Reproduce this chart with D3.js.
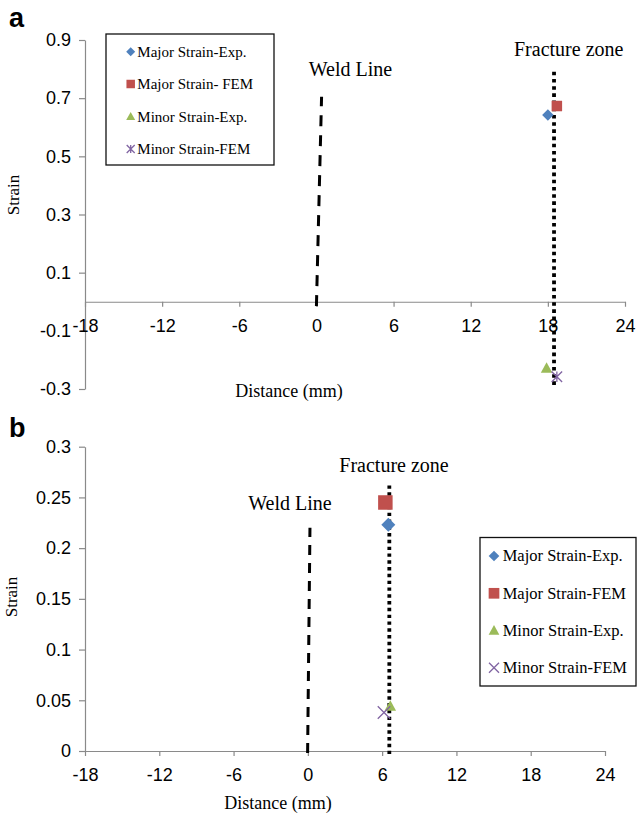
<!DOCTYPE html>
<html>
<head>
<meta charset="utf-8">
<script src="https://cdn.jsdelivr.net/npm/d3@7"></script>
<style>
  html, body { margin: 0; padding: 0; background: #fff; }
  svg { display: block; }
</style>
</head>
<body>
<svg id="chart" width="638" height="815"></svg>
<script>
// ---------- DATA ----------
const seriesNames = ["Major Strain-Exp.", "Major Strain-FEM", "Minor Strain-Exp.", "Minor Strain-FEM"];
const legendNamesA = ["Major Strain-Exp.", "Major Strain- FEM", "Minor Strain-Exp.", "Minor Strain-FEM"];
const seriesColors = ["#4F81BD", "#C0504D", "#9BBB59", "#8064A2"];

const xTicks = [-18, -12, -6, 0, 6, 12, 18, 24];
const yTicksA = [-0.3, -0.1, 0.1, 0.3, 0.5, 0.7, 0.9];
const yTicksB = [0, 0.05, 0.1, 0.15, 0.2, 0.25, 0.3];

// Panel a: distance (mm), strain
const distA = [18.0, 18.7, 17.9, 18.7];
const strainA = [0.642, 0.673, -0.229, -0.258];
// Panel b
const distB = [6.5, 6.26, 6.66, 6.15];
const strainB = [0.223, 0.245, 0.044, 0.038];

// Reference lines [x, y]
const weldA = [[0.0, -0.015], [0.4, 0.705]];
const fractureA = [[18.48, -0.286], [18.48, 0.80]];
const weldB = [[-0.02, -0.002], [0.17, 0.22]];
const fractureB = [[6.58, -0.003], [6.58, 0.265]];

// ---------- SYMBOLS (size = width in px) ----------
const symDiamond = { draw(c, w) { const r = w / 2; c.moveTo(0, -r); c.lineTo(r, 0); c.lineTo(0, r); c.lineTo(-r, 0); c.closePath(); } };
const symSquare = { draw(c, w) { const r = w / 2; c.moveTo(-r, -r); c.lineTo(r, -r); c.lineTo(r, r); c.lineTo(-r, r); c.closePath(); } };
const symTriangle = { draw(c, w) { const r = w / 2; c.moveTo(0, -r * 1.05); c.lineTo(r, r * 0.75); c.lineTo(-r, r * 0.75); c.closePath(); } };
const symAsterisk = { draw(c, w) { const r = w / 2; c.moveTo(-r, -r); c.lineTo(r, r); c.moveTo(-r, r); c.lineTo(r, -r); c.moveTo(0, -r); c.lineTo(0, r); } };
const symX = { draw(c, w) { const r = w / 2; c.moveTo(-r, -r); c.lineTo(r, r); c.moveTo(-r, r); c.lineTo(r, -r); } };

const svg = d3.select("#chart");
const serif = "'Liberation Serif', 'Times New Roman', serif";
const sans = "'Liberation Sans', Arial, sans-serif";
const axisColor = "#8a8a8a";
const hyphenNum = (s) => String(s).replace("\u2212", "-");

function drawMarker(g, type, x, y, w, color) {
  const stroked = (type === symAsterisk || type === symX);
  g.append("path")
    .attr("transform", `translate(${x},${y})`)
    .attr("d", d3.symbol().type(type).size(w)())
    .attr("fill", stroked ? "none" : color)
    .attr("stroke", stroked ? color : "none")
    .attr("stroke-width", stroked ? 1.3 : 0);
}

function styleAxis(g) {
  g.selectAll("path.domain").attr("stroke", axisColor).attr("stroke-width", 1.2);
  g.selectAll(".tick line").attr("stroke", axisColor).attr("stroke-width", 1.2);
  g.selectAll(".tick text").attr("font-family", sans).attr("font-size", 18).attr("fill", "#000");
}

function panel(cfg) {
  const g = svg.append("g");
  const x = d3.scaleLinear().domain([-18, 24]).range(cfg.xRange);
  const y = d3.scaleLinear().domain(cfg.yDomain).range(cfg.yRange);

  // y axis
  const ya = g.append("g").attr("transform", `translate(${cfg.xRange[0]},0)`)
    .call(d3.axisLeft(y).tickValues(cfg.yTicks).tickFormat(d => hyphenNum(cfg.yFmt(d))).tickSize(6).tickSizeOuter(0).tickPadding(8));
  styleAxis(ya);
  // x axis at y=0
  const xa = g.append("g").attr("transform", `translate(0,${y(0)})`)
    .call(d3.axisBottom(x).tickValues(xTicks).tickFormat(d => hyphenNum(d)).tickSize(5).tickSizeOuter(0).tickPadding(12.7));
  styleAxis(xa);

  // reference lines
  const line = d3.line().x(d => x(d[0])).y(d => y(d[1]));
  g.append("path").attr("d", line(cfg.weld)).attr("fill", "none").attr("stroke", "#000")
    .attr("stroke-width", 3).attr("stroke-dasharray", cfg.weldDash);
  g.append("path").attr("d", line(cfg.fracture)).attr("fill", "none").attr("stroke", "#000")
    .attr("stroke-width", 3.8).attr("stroke-dasharray", cfg.fracDash);

  // annotations
  g.append("text").attr("x", cfg.weldLabel[0]).attr("y", cfg.weldLabel[1]).attr("text-anchor", "middle")
    .attr("font-family", serif).attr("font-size", 20).text("Weld Line");
  g.append("text").attr("x", cfg.fracLabel[0]).attr("y", cfg.fracLabel[1]).attr("text-anchor", "middle")
    .attr("font-family", serif).attr("font-size", 20).text("Fracture zone");

  // points
  cfg.dist.forEach((d, i) => {
    drawMarker(g, cfg.symbols[i], x(d), y(cfg.strain[i]), cfg.markerSizes[i], seriesColors[i]);
  });

  // axis titles
  g.append("text").attr("x", cfg.xTitle[0]).attr("y", cfg.xTitle[1]).attr("text-anchor", "middle")
    .attr("font-family", serif).attr("font-size", 18).text("Distance (mm)");
  g.append("text").attr("transform", `translate(${cfg.yTitle[0]},${cfg.yTitle[1]}) rotate(-90)`)
    .attr("text-anchor", "middle").attr("font-family", serif).attr("font-size", 17).text("Strain");

  // panel letter
  g.append("text").attr("x", cfg.letter[0]).attr("y", cfg.letter[1]).attr("font-family", sans)
    .attr("font-weight", "bold").attr("font-size", 27).text(cfg.letter[2]);

  // legend
  const L = cfg.legend;
  const lg = g.append("g");
  lg.append("rect").attr("x", L.x).attr("y", L.y).attr("width", L.w).attr("height", L.h)
    .attr("fill", "#fff").attr("stroke", "#111").attr("stroke-width", 1.3);
  L.names.forEach((n, i) => {
    const cy = L.rows[i];
    drawMarker(lg, cfg.symbols[i], L.mx, cy, L.msize[i], seriesColors[i]);
    lg.append("text").attr("x", L.tx).attr("y", cy).attr("dy", "0.33em")
      .attr("font-family", serif).attr("font-size", L.fs).text(n);
  });
}

panel({
  xRange: [85, 625], yDomain: [-0.3, 0.9], yRange: [389, 40], yTicks: yTicksA,
  yFmt: d => d3.format(".1f")(d),
  weld: weldA, fracture: fractureA, weldDash: "11,9", fracDash: "3.6,3.6",
  weldLabel: [350.5, 75.5], fracLabel: [568.7, 56],
  dist: distA, strain: strainA,
  symbols: [symDiamond, symSquare, symTriangle, symAsterisk],
  markerSizes: [11.5, 10.5, 11.5, 10.5],
  xTitle: [289, 397], yTitle: [19, 195],
  letter: [9, 27, "a"],
  legend: { x: 106, y: 34, w: 168, h: 131, names: legendNamesA, rows: [51.7, 84, 116.7, 149],
            mx: 130.7, tx: 137.3, fs: 15, msize: [9, 8.5, 9, 8] }
});

panel({
  xRange: [85, 605], yDomain: [0, 0.3], yRange: [751, 446.7], yTicks: yTicksB,
  yFmt: d => d === 0 ? "0" : String(d),
  weld: weldB, fracture: fractureB, weldDash: "10,8", fracDash: "3.4,3.4",
  weldLabel: [290, 510], fracLabel: [394, 471.7],
  dist: distB, strain: strainB,
  symbols: [symDiamond, symSquare, symTriangle, symX],
  markerSizes: [14, 14.5, 11.5, 12.5],
  xTitle: [278, 809], yTitle: [17, 597],
  letter: [9, 437, "b"],
  legend: { x: 480, y: 537.5, w: 156, h: 148.5, names: seriesNames, rows: [556, 593.3, 630.7, 667.7],
            mx: 494, tx: 502.7, fs: 16.5, msize: [10.7, 10.7, 10.7, 10] }
});
</script>
</body>
</html>
